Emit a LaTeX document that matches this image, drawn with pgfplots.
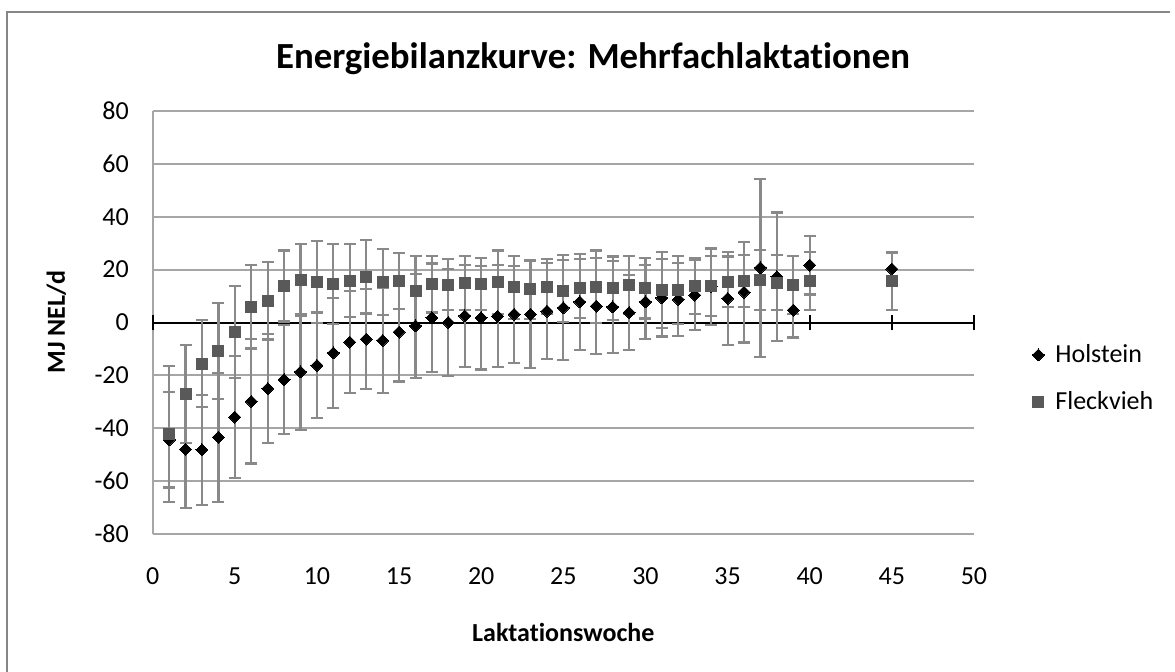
\documentclass[border=0pt]{standalone}
\usepackage{pgfplots}
\pgfplotsset{compat=1.18}
\usepackage{pgfplotstable}
\usepackage{fontspec}
\setmainfont{Carlito}[Ligatures=NoCommon]
\definecolor{gridgray}{RGB}{166,166,166}
\definecolor{errgray}{RGB}{137,137,137}
\definecolor{fleck}{RGB}{89,89,89}
\definecolor{bordergray}{RGB}{134,134,134}
\pgfdeclareplotmark{rdiamond}{%
  \pgfpathmoveto{\pgfqpoint{0pt}{\pgfplotmarksize}}%
  \pgfpathlineto{\pgfqpoint{\pgfplotmarksize}{0pt}}%
  \pgfpathlineto{\pgfqpoint{0pt}{-\pgfplotmarksize}}%
  \pgfpathlineto{\pgfqpoint{-\pgfplotmarksize}{0pt}}%
  \pgfpathclose\pgfusepathqfillstroke}
\pgfplotsset{ptlegend/.style={legend image code/.code={\draw[##1] plot coordinates {(0pt,0pt)};}}}

\pgfplotstableread{
w m s
1 -44.4 18.0
2 -48.0 22.3
3 -48.2 20.8
4 -43.4 24.4
5 -35.8 23.1
6 -29.8 23.5
7 -25.0 20.6
8 -21.6 20.6
9 -18.7 21.9
10 -16.2 20.0
11 -11.5 20.8
12 -7.4 19.3
13 -6.3 19.0
14 -6.8 19.8
15 -3.6 18.7
16 -1.3 19.6
17 1.8 20.5
18 0.0 20.3
19 2.5 19.3
20 1.8 19.6
21 2.4 19.2
22 3.1 18.3
23 3.1 20.2
24 4.3 18.2
25 5.6 19.9
26 7.8 18.1
27 6.2 18.2
28 5.9 17.5
29 3.8 14.3
30 7.8 14.1
31 9.3 14.6
32 8.7 13.9
33 10.4 13.3
34 13.5 14.5
35 9.1 17.7
36 11.5 19.1
37 20.7 33.7
38 17.3 24.3
39 4.7 10.4
40 21.7 11.1
45 20.2 6.2
}\holstein

\pgfplotstableread{
w m s
1 -42.1 25.7
2 -27.0 18.6
3 -15.6 16.5
4 -10.8 18.2
5 -3.6 17.5
6 5.9 15.7
7 8.3 14.7
8 13.8 13.4
9 16.1 13.6
10 15.4 15.5
11 14.5 15.1
12 15.8 13.8
13 17.3 13.9
14 15.2 12.5
15 15.7 10.5
16 11.9 13.3
17 14.5 10.7
18 14.3 9.6
19 15.0 10.2
20 14.5 9.8
21 15.2 12.0
22 13.3 11.9
23 12.5 11.1
24 13.5 10.4
25 11.9 11.7
26 12.9 11.2
27 13.5 13.7
28 12.9 12.1
29 14.3 11.0
30 12.9 11.4
31 12.3 14.3
32 12.3 12.9
33 13.8 10.5
34 13.8 11.4
35 15.4 9.6
36 15.7 9.8
37 16.1 11.3
38 15.0 10.4
39 14.2 11.0
40 15.7 11.1
45 15.7 11.0
}\fleckvieh

\begin{document}
\begin{tikzpicture}
\useasboundingbox (-76.35pt,-68.5pt) rectangle (511.15pt,267pt);
\draw[bordergray, line width=1pt] (-72.85pt,-70pt) -- (-72.85pt,261pt) -- (508.65pt,261pt);
\begin{axis}[
  at={(0pt,0pt)}, anchor=south west,
  scale only axis, width=410.65pt, height=211.5pt,
  xmin=0, xmax=50, ymin=-80, ymax=80,
  xtick={0,5,...,50}, ytick={-80,-60,...,80},
  xticklabels={0,5,10,15,20,25,30,35,40,45,50},
  yticklabels={-80,-60,-40,-20,0,20,40,60,80},
  major tick length=0pt,
  axis lines*=left,
  axis line style={-},
  x axis line style={draw=none},
  y axis line style={gridgray, line width=1pt},
  ymajorgrids,
  grid style={gridgray, line width=1pt},
  tick label style={font=\fontsize{13}{15}\selectfont},
  xticklabel style={yshift=-13.3pt},
  yticklabel style={xshift=-8.4pt},
  clip=false,
  legend style={draw=none, fill=none, at={(1.0633,0.3676)}, anchor=west,
    font=\fontsize{13}{15}\selectfont, row sep=9pt,
    /tikz/every odd column/.append style={column sep=3.5pt}},
  legend cell align=left,
]
\draw[black, line width=1pt] (axis cs:0,0) -- (axis cs:50,0);
\pgfplotsinvokeforeach{0,5,...,50}{\draw[black, line width=1pt] (axis cs:#1,-3) -- (axis cs:#1,3);}
\addplot[only marks, mark=rdiamond, mark size=3pt,
  mark options={fill=black, draw=black, line width=0pt},
  ptlegend,
  error bars/.cd, y dir=both, y explicit,
  error bar style={errgray, line width=1.1pt},
  error mark options={rotate=90, mark size=3pt, errgray, line width=1.1pt}]
  table[x=w, y=m, y error=s] {\holstein};
\addlegendentry{Holstein}
\addplot[only marks, mark=square*, mark size=2.75pt,
  mark options={fill=fleck, draw=fleck, line width=0pt},
  ptlegend,
  error bars/.cd, y dir=both, y explicit,
  error bar style={errgray, line width=1.1pt},
  error mark options={rotate=90, mark size=3pt, errgray, line width=1.1pt}]
  table[x=w, y=m, y error=s] {\fleckvieh};
\addlegendentry{Fleckvieh}
\end{axis}
\node[anchor=base, font=\fontsize{18.4}{22}\selectfont\bfseries] at (220.15pt,232.5pt) {Energiebilanzkurve: Mehrfachlaktationen};
\node[anchor=base, font=\fontsize{13}{15}\selectfont\bfseries] at (205.3pt,-53.5pt) {Laktationswoche};
\node[anchor=base, rotate=90, font=\fontsize{13}{15}\selectfont\bfseries] at (-43.85pt,106pt) {MJ NEL/d};
\end{tikzpicture}
\end{document}
